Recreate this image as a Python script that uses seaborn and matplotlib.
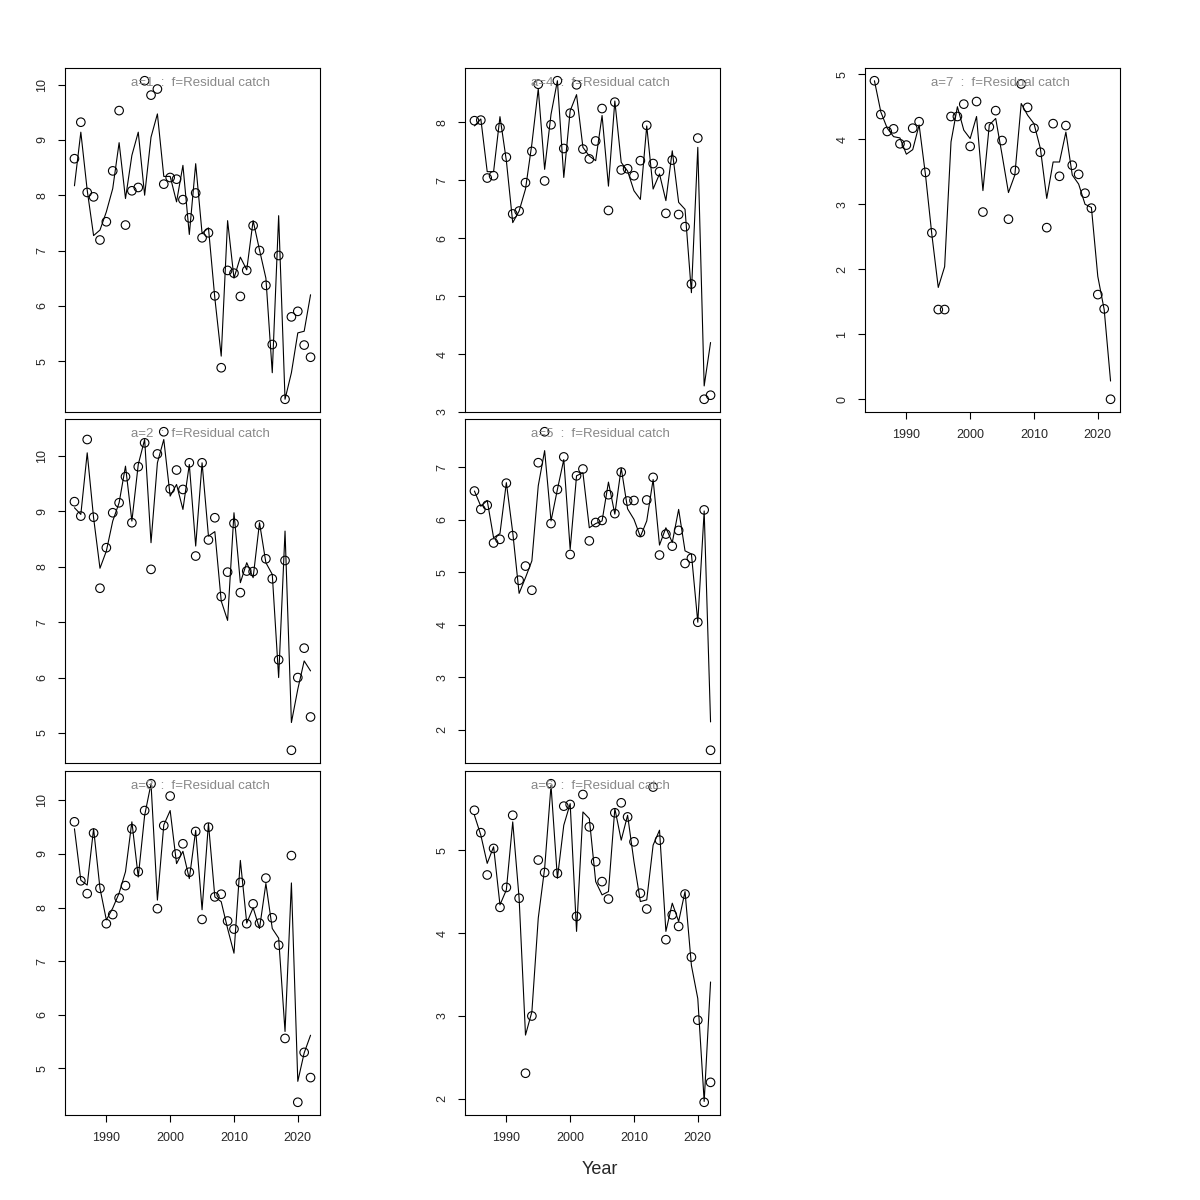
import math
import pandas as pd
import seaborn as sns
import matplotlib.pyplot as plt

# years of the assessment
years = list(range(1985, 2023))

# observed (circles) and fitted (line) residual catch, by age
obs_a1 = [8.66, 9.32, 8.05, 7.97, 7.19, 7.52, 8.44, 9.53, 7.46, 8.08, 8.14, 10.07, 9.81, 9.92, 8.20, 8.32, 8.29, 7.92, 7.59,
          8.04, 7.23, 7.32, 6.18, 4.88, 6.64, 6.59, 6.17, 6.64, 7.45, 7.00, 6.37, 5.30, 6.91, 4.31, 5.80, 5.90, 5.29, 5.07]
fit_a1 = [8.17, 9.14, 8.09, 7.27, 7.37, 7.70, 8.12, 8.95, 7.94, 8.72, 9.14, 8.00, 9.05, 9.47, 8.34, 8.34, 7.88, 8.54, 7.29,
          8.57, 7.31, 7.41, 6.14, 5.09, 7.54, 6.50, 6.88, 6.65, 7.54, 7.01, 6.50, 4.79, 7.63, 4.31, 4.79, 5.51, 5.54, 6.20]

obs_a2 = [9.17, 8.91, 10.29, 8.89, 7.61, 8.34, 8.97, 9.15, 9.62, 8.79, 9.80, 10.23, 7.95, 10.03, 10.43, 9.40, 9.74, 9.39, 9.87,
          8.19, 9.87, 8.48, 8.88, 7.46, 7.90, 8.78, 7.53, 7.92, 7.91, 8.75, 8.14, 7.78, 6.32, 8.11, 4.69, 6.00, 6.53, 5.29]
fit_a2 = [9.06, 8.94, 10.05, 8.88, 7.97, 8.28, 8.82, 9.15, 9.81, 8.82, 9.84, 10.29, 8.43, 9.87, 10.29, 9.27, 9.48, 9.03, 9.84,
          8.37, 9.87, 8.55, 8.63, 7.38, 7.03, 8.97, 7.71, 8.07, 7.80, 8.79, 8.07, 7.86, 6.00, 8.64, 5.19, 5.79, 6.30, 6.12]

obs_a3 = [9.60, 8.50, 8.26, 9.39, 8.36, 7.70, 7.87, 8.18, 8.41, 9.47, 8.67, 9.81, 10.31, 7.98, 9.53, 10.08, 9.00, 9.19, 8.66,
          9.42, 7.78, 9.50, 8.20, 8.25, 7.75, 7.60, 8.47, 7.70, 8.07, 7.71, 8.55, 7.81, 7.30, 5.56, 8.97, 4.37, 5.30, 4.83]
fit_a3 = [9.47, 8.51, 8.42, 9.47, 8.36, 7.77, 7.99, 8.27, 8.67, 9.60, 8.57, 9.72, 10.31, 8.14, 9.54, 9.81, 8.82, 9.05, 8.54,
          9.44, 7.96, 9.57, 8.20, 8.11, 7.61, 7.15, 8.88, 7.71, 8.00, 7.61, 8.45, 7.61, 7.43, 5.69, 8.46, 4.76, 5.29, 5.62]

obs_a4 = [8.03, 8.04, 7.04, 7.08, 7.91, 7.40, 6.42, 6.47, 6.96, 7.50, 8.66, 6.99, 7.96, 8.72, 7.55, 8.16, 8.65, 7.54, 7.37,
          7.68, 8.24, 6.48, 8.35, 7.18, 7.20, 7.08, 7.34, 7.95, 7.29, 7.15, 6.43, 7.35, 6.41, 6.20, 5.21, 7.73, 3.22, 3.29]
fit_a4 = [7.94, 8.06, 7.15, 7.15, 8.10, 7.34, 6.27, 6.47, 6.85, 7.63, 8.58, 7.19, 8.14, 8.72, 7.05, 8.20, 8.48, 7.57, 7.42,
          7.34, 8.12, 6.90, 8.37, 7.31, 7.16, 6.82, 6.67, 7.94, 6.85, 7.11, 6.65, 7.51, 6.62, 6.50, 5.06, 7.57, 3.45, 4.20]

obs_a5 = [6.55, 6.20, 6.28, 5.56, 5.63, 6.70, 5.70, 4.85, 5.12, 4.66, 7.09, 7.68, 5.93, 6.58, 7.20, 5.34, 6.84, 6.97, 5.60,
          5.95, 5.99, 6.48, 6.12, 6.91, 6.36, 6.37, 5.76, 6.38, 6.81, 5.33, 5.73, 5.50, 5.80, 5.17, 5.27, 4.05, 6.19, 1.61]
fit_a5 = [6.55, 6.26, 6.37, 5.66, 5.74, 6.71, 5.76, 4.60, 4.90, 5.22, 6.65, 7.32, 5.98, 6.58, 7.15, 5.44, 6.84, 6.90, 5.85,
          5.93, 5.98, 6.72, 6.11, 6.99, 6.21, 6.01, 5.68, 5.98, 6.77, 5.52, 5.85, 5.57, 6.20, 5.41, 5.35, 4.05, 6.17, 2.15]

obs_a6 = [5.48, 5.21, 4.70, 5.02, 4.31, 4.55, 5.42, 4.42, 2.31, 3.00, 4.88, 4.73, 5.80, 4.72, 5.53, 5.55, 4.20, 5.67, 5.28,
          4.86, 4.62, 4.41, 5.45, 5.57, 5.40, 5.10, 4.48, 4.29, 5.76, 5.12, 3.92, 4.22, 4.08, 4.47, 3.71, 2.95, 1.96, 2.20]
fit_a6 = [5.42, 5.18, 4.84, 5.04, 4.34, 4.52, 5.34, 4.42, 2.77, 3.05, 4.18, 4.78, 5.78, 4.66, 5.30, 5.56, 4.02, 5.46, 5.38,
          4.62, 4.46, 4.50, 5.50, 5.12, 5.42, 4.86, 4.38, 4.40, 5.06, 5.24, 4.02, 4.36, 4.14, 4.50, 3.61, 3.21, 1.97, 3.41]

obs_a7 = [4.90, 4.38, 4.12, 4.16, 3.93, 3.91, 4.17, 4.27, 3.49, 2.56, 1.38, 1.38, 4.35, 4.35, 4.54, 3.89, 4.58, 2.88, 4.19,
          4.44, 3.98, 2.77, 3.52, 4.85, 4.49, 4.17, 3.80, 2.64, 4.24, 3.43, 4.21, 3.60, 3.46, 3.17, 2.94, 1.61, 1.39, 0.00]
fit_a7 = [4.90, 4.42, 4.17, 4.04, 4.02, 3.77, 3.84, 4.22, 3.45, 2.53, 1.72, 2.04, 3.96, 4.50, 4.14, 4.01, 4.35, 3.21, 4.22,
          4.32, 3.76, 3.18, 3.45, 4.55, 4.37, 4.24, 3.86, 3.09, 3.65, 3.65, 4.11, 3.45, 3.31, 3.00, 2.95, 1.89, 1.38, 0.28]

ages = [1, 2, 3, 4, 5, 6, 7]
obs_all = [obs_a1, obs_a2, obs_a3, obs_a4, obs_a5, obs_a6, obs_a7]
fit_all = [fit_a1, fit_a2, fit_a3, fit_a4, fit_a5, fit_a6, fit_a7]

sns.set_theme(style="ticks")
plt.rcParams['font.family'] = ['Liberation Sans', 'DejaVu Sans']

fig = plt.figure(figsize=(12, 12), dpi=100)

# panel placement (left, bottom) in figure fractions, R-style column-wise layout
W, H = 255 / 1200, 344 / 1200
lefts = [65 / 1200, 465 / 1200, 865 / 1200]
bottoms = [1 - 412 / 1200, 1 - 763 / 1200, 1 - 1115 / 1200]
place = {1: (0, 0), 2: (0, 1), 3: (0, 2), 4: (1, 0), 5: (1, 1), 6: (1, 2), 7: (2, 0)}
bottom_row = {3, 6, 7}

for age, obs, fit in zip(ages, obs_all, fit_all):
    c, r = place[age]
    ax = fig.add_axes([lefts[c], bottoms[r], W, H])
    df = pd.DataFrame({'Year': years, 'obs': obs, 'fit': fit})
    sns.lineplot(data=df, x='Year', y='fit', ax=ax, color='black', lw=0.8, estimator=None)
    sns.scatterplot(data=df, x='Year', y='obs', ax=ax, marker='o', s=38,
                    facecolor='none', edgecolor='black', linewidth=0.8)

    # R-like 4% axis expansion
    lo = min(min(obs), min(fit))
    hi = max(max(obs), max(fit))
    pad = 0.04 * (hi - lo)
    ax.set_ylim(lo - pad, hi + pad)
    ax.set_xlim(1985 - 0.04 * 37, 2022 + 0.04 * 37)

    ax.set_yticks(list(range(math.ceil(lo - pad - 0.02), math.floor(hi + pad - 0.02) + 1)))
    ax.set_ylim(lo - pad, hi + pad)
    ax.tick_params(axis='y', labelsize=9, length=5, width=0.8, color='black', labelrotation=90, pad=7)
    for lab in ax.get_yticklabels():
        lab.set_va('center')
    if age in bottom_row:
        ax.set_xticks([1990, 2000, 2010, 2020])
        ax.tick_params(axis='x', labelsize=9, length=5, width=0.8, color='black', pad=7)
    else:
        ax.set_xticks([])
    ax.set_xlabel('')
    ax.set_ylabel('')
    for sp in ax.spines.values():
        sp.set_color('black')
        sp.set_linewidth(0.8)

    ax.text(0.53, 0.955, f'a={age}  :  f=Residual catch', transform=ax.transAxes,
            ha='center', va='center', fontsize=9.5, color='#888888')

fig.text(0.5, 1 - 1170 / 1200, 'Year', ha='center', va='center', fontsize=13)

plt.savefig('out.png', dpi=100)
